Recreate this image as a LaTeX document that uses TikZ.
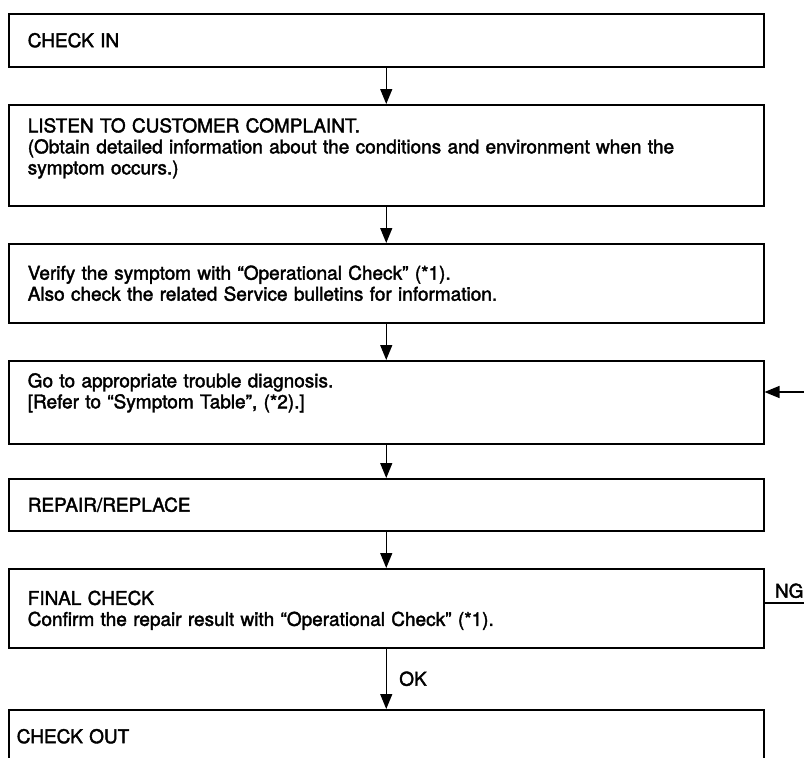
\documentclass[tikz,border=0pt]{standalone}
\usepackage{fontspec}
\setmainfont{TeX Gyre Heros}[FakeBold=2]
\usetikzlibrary{arrows.meta}

\newcommand{\flowfont}{\fontsize{19}{21}\selectfont}

\begin{document}
\begin{tikzpicture}[x=1pt, y=-1pt,
		box/.style={draw, line width=1.5pt, anchor=north west, minimum width=755pt,
			inner xsep=19pt, inner ysep=0pt, text width=717pt, align=left, font=\flowfont},
		flow/.style={line width=1.3pt, -{Triangle[length=15pt, width=12pt]}},
		link/.style={line width=1.3pt}]
		\useasboundingbox (0,0) rectangle (804,758);

		% Draw the steps
		\node[box, minimum height=53pt] (checkin) at (8,13) {CHECK IN};
		\node[box, minimum height=101pt, text depth=60pt] (listen) at (8,104) {LISTEN TO CUSTOMER COMPLAINT.\\
			(Obtain detailed information about the conditions and environment when the\\
			symptom occurs.)};
		\node[box, minimum height=79pt] (verify) at (8,243) {Verify the symptom with “Operational Check” (*1).\\
			Also check the related Service bulletins for information.};
		\node[box, minimum height=83pt, text depth=44pt] (diagnose) at (8,360) {Go to appropriate trouble diagnosis.\\
			{[}Refer to “Symptom Table”, (*2).]};
		\node[box, minimum height=52pt] (repair) at (8,478) {REPAIR/REPLACE};
		\node[box, minimum height=79pt, text depth=21pt] (final) at (8,568) {FINAL CHECK\\
			Confirm the repair result with “Operational Check” (*1).};
		\node[box, minimum height=53pt, inner xsep=8pt, text width=739pt] (checkout) at (8,709) {CHECK OUT};

		% Draw the flow
		\draw[flow] (checkin) -- (listen);
		\draw[flow] (listen) -- (verify);
		\draw[flow] (verify) -- (diagnose);
		\draw[flow] (diagnose) -- (repair);
		\draw[flow] (repair) -- (final);
		\draw[flow] (final) -- node[right, xshift=9pt, font=\flowfont] {OK} (checkout);

		% NG goes back to the diagnosis
		\coordinate (ngedge) at (804,603);
		\coordinate (backedge) at (804,392);
		\draw[link] (final.east |- ngedge) -- node[above, xshift=5pt, yshift=1pt, font=\flowfont] {NG} (ngedge);
		\draw[flow] (backedge) -- (diagnose.east |- backedge);
	\end{tikzpicture}
\end{document}
